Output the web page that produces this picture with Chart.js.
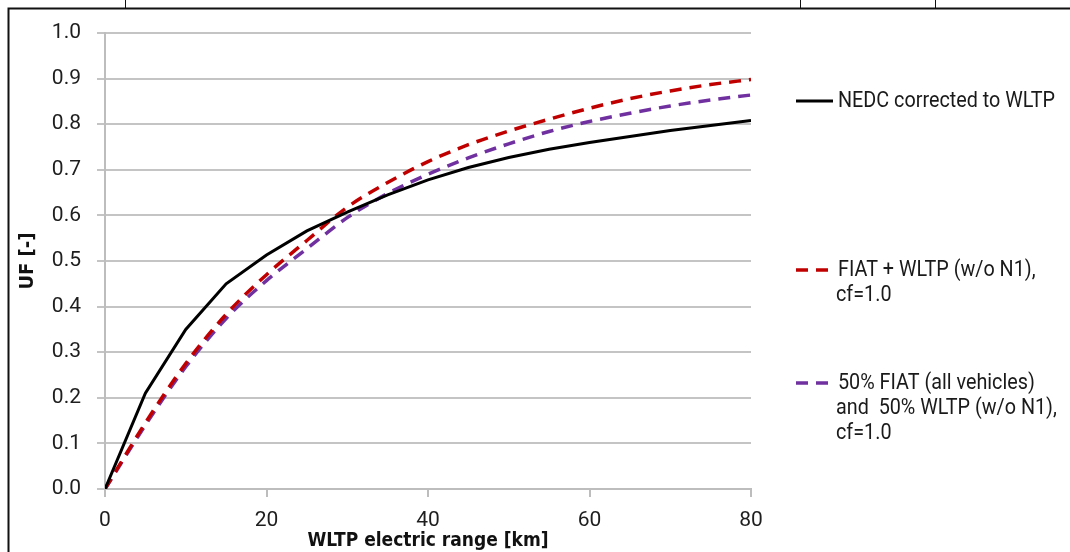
<!DOCTYPE html>
<html>
<head>
<meta charset="utf-8">
<script src="https://cdn.jsdelivr.net/npm/chart.js@4.4.1/dist/chart.umd.min.js"></script>
<style>
  html, body { margin: 0; padding: 0; background: #fff; }
  #wrap { width: 1070px; height: 552px; position: relative; }
</style>
</head>
<body>
<div id="wrap"><canvas id="uf"></canvas></div>
<script>
// WLTP electric range (km)
var rangeKm = [0, 5, 10, 15, 20, 25, 30, 35, 40, 45, 50, 55, 60, 65, 70, 75, 80];

// utility factor values
var nedcUF  = [0, 0.21, 0.35, 0.45, 0.513, 0.566, 0.607, 0.645, 0.678, 0.705, 0.727, 0.745, 0.760, 0.773, 0.786, 0.797, 0.808];
var fiatUF  = [0, 0.145, 0.275, 0.383, 0.470, 0.545, 0.618, 0.672, 0.718, 0.755, 0.785, 0.811, 0.835, 0.856, 0.873, 0.887, 0.898];
var mixUF   = [0, 0.140, 0.268, 0.374, 0.457, 0.527, 0.595, 0.648, 0.690, 0.726, 0.757, 0.784, 0.806, 0.824, 0.840, 0.853, 0.864];

var seriesLabels = [
  ["NEDC corrected to WLTP"],
  ["FIAT + WLTP (w/o N1),", "cf=1.0"],
  ["50% FIAT (all vehicles)", "and  50% WLTP (w/o N1),", "cf=1.0"]
];

var xTicks = [0, 20, 40, 60, 80];
var yTicks = [0, 0.1, 0.2, 0.3, 0.4, 0.5, 0.6, 0.7, 0.8, 0.9, 1.0];

function toPoints(vals) {
  var pts = [];
  for (var i = 0; i < rangeKm.length; i++) {
    pts.push({x: rangeKm[i], y: vals[i]});
  }
  return pts;
}

var narrow = "'DejaVu Sans Condensed', sans-serif";

// legend on the right, entries placed by hand like the original figure
var sideLegend = {
  id: 'sideLegend',
  afterDraw: function (chart) {
    var ctx = chart.ctx;
    var rowsY = [101, 270, 383];
    ctx.save();
    ctx.font = '22px Roboto';
    // squeeze the text so the first entry is as wide as in the figure
    var sx = 217 / ctx.measureText(seriesLabels[0][0]).width;
    chart.data.datasets.forEach(function (ds, i) {
      var y = rowsY[i];
      ctx.beginPath();
      ctx.strokeStyle = ds.borderColor;
      ctx.lineWidth = ds.borderWidth;
      ctx.setLineDash(ds.borderDash || []);
      ctx.moveTo(796, y);
      ctx.lineTo(833, y);
      ctx.stroke();
      ctx.setLineDash([]);
      ctx.fillStyle = '#1a1a1a';
      ctx.textBaseline = 'middle';
      var lines = seriesLabels[i];
      for (var k = 0; k < lines.length; k++) {
        ctx.save();
        ctx.translate(k == 0 ? 838 : 836, y + k * 25);
        ctx.scale(sx, 1);
        ctx.fillText(lines[k], 0, 0);
        ctx.restore();
      }
    });
    ctx.restore();
  }
};

// the thin black frame of the scanned figure
var frame = {
  id: 'frame',
  beforeDraw: function (chart) {
    var ctx = chart.ctx;
    ctx.save();
    ctx.fillStyle = '#fff';
    ctx.fillRect(0, 0, chart.width, chart.height);
    ctx.strokeStyle = '#111';
    ctx.lineWidth = 2;
    ctx.beginPath();
    ctx.moveTo(8.5, 552);
    ctx.lineTo(8.5, 8.5);
    ctx.lineTo(1070, 8.5);
    ctx.stroke();
    ctx.lineWidth = 1;
    [125, 800, 935].forEach(function (x) {
      ctx.beginPath();
      ctx.moveTo(x + 0.5, 0);
      ctx.lineTo(x + 0.5, 8);
      ctx.stroke();
    });
    ctx.restore();
  }
};

new Chart(document.getElementById('uf'), {
  type: 'line',
  data: {
    datasets: [{
      label: seriesLabels[0].join(' '),
      data: toPoints(nedcUF),
      borderColor: '#000000',
      borderWidth: 3,
      tension: 0,
      pointRadius: 0
    }, {
      label: seriesLabels[1].join(' '),
      data: toPoints(fiatUF),
      borderColor: '#c00000',
      borderWidth: 3.5,
      borderDash: [12, 8],
      cubicInterpolationMode: 'monotone',
      pointRadius: 0
    }, {
      label: seriesLabels[2].join(' '),
      data: toPoints(mixUF),
      borderColor: '#7030a0',
      borderWidth: 3.5,
      borderDash: [12, 8],
      cubicInterpolationMode: 'monotone',
      pointRadius: 0
    }]
  },
  options: {
    responsive: true,
    maintainAspectRatio: false,
    animation: false,
    layout: { padding: { left: 0, right: 319, top: 33, bottom: 0 } },
    plugins: {
      legend: { display: false },
      tooltip: { enabled: false }
    },
    scales: {
      x: {
        type: 'linear',
        min: 0,
        max: 80,
        afterBuildTicks: function (scale) {
          scale.ticks = xTicks.map(function (v) { return {value: v}; });
        },
        afterFit: function (scale) { scale.height = 63; },
        grid: { drawOnChartArea: false, color: '#bdbdbd', lineWidth: 2, tickLength: 8 },
        border: { color: '#bdbdbd', width: 2 },
        ticks: { color: '#1e1e1e', font: { family: 'Roboto', size: 21 }, padding: 11 },
        title: {
          display: true,
          text: 'WLTP electric range [km]',
          color: '#111',
          font: { family: narrow, size: 19, weight: 'bold' },
          padding: { top: 0, bottom: 0 }
        }
      },
      y: {
        min: 0,
        max: 1,
        afterBuildTicks: function (scale) {
          scale.ticks = yTicks.map(function (v) { return {value: v}; });
        },
        afterFit: function (scale) { scale.width = 105; },
        grid: { color: '#c4c4c4', lineWidth: 2, tickLength: 8 },
        border: { color: '#bdbdbd', width: 2 },
        ticks: {
          color: '#1e1e1e',
          font: { family: 'Roboto', size: 21 },
          padding: 16,
          callback: function (v) { return v.toFixed(1); }
        },
        title: {
          display: true,
          text: 'UF [-]',
          color: '#111',
          font: { family: narrow, size: 20, weight: 'bold' },
          padding: { top: 16, bottom: 0 }
        }
      }
    }
  },
  plugins: [frame, sideLegend]
});
</script>
</body>
</html>
